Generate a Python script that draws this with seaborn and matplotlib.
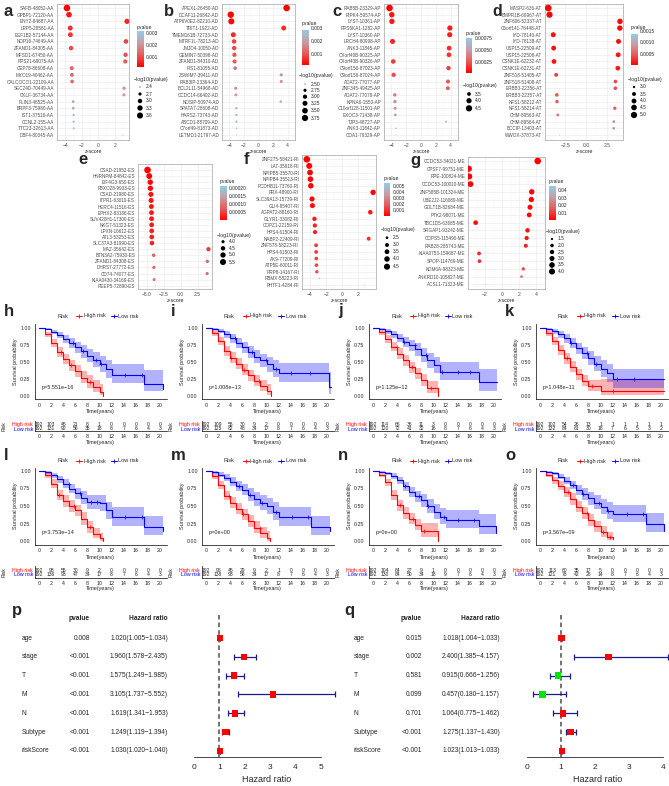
import math
import numpy as np
import pandas as pd
import matplotlib
matplotlib.use("Agg")
import matplotlib.pyplot as plt
import seaborn as sns
from matplotlib.colors import LinearSegmentedColormap, Normalize
from matplotlib.colorbar import ColorbarBase

# ================= DATA =================
# ---- dot plots (gene event, z-score) ----
A_GENES = ["SAFB-48052-AA", "GPBP1-72120-AA", "ENY2-84887-AA", "LRP5-28581-AA", "EEF1B2-57144-AA",
           "NOP16-74649-AA", "ZFAND1-84305-AA", "MFSD1-67450-AA", "RPS21-69075-AA", "CEP78-86608-AA",
           "MYO19-40462-AA", "CALCOCO1-22109-AA", "SEC24D-70449-AA", "CKLF-36734-AA", "PLIN3-48525-AA",
           "BRPF3-75980-AA", "IST1-37516-AA", "CCNL2-155-AA", "TTC23-32613-AA", "DBF4-80345-AA"]
A_Z = [-3.80, -3.55, 3.45, -3.40, -3.38, 3.33, -3.30, 3.28, 3.25, -3.22,
       -3.20, -3.18, 3.10, 3.08, -3.05, -3.04, -3.00, -2.99, -2.98, 2.95]

B_GENES = ["APEX1-26450-AD", "DCAF11-26842-AD", "ATP6V0E2-82210-AD", "TRIT1-1922-AD", "TMEM161B-72733-AD",
           "MTRF1L-78213-AD", "JMJD4-10050-AD", "GEMIN7-50398-AD", "ZFAND1-84310-AD", "FIS1-81055-AD",
           "ZSWIM7-39411-AD", "RAB3IP-23364-AD", "BCL2L11-54968-AD", "CCDC14-66402-AD", "NOSIP-50974-AD",
           "SPATA7-28608-AD", "HARS2-73743-AD", "ABCD1-88709-AD", "C7orf49-81873-AD", "LETMD1-21797-AD"]
B_Z = [3.85, -3.80, -3.72, 3.45, -3.45, -3.35, -3.33, -3.30, -3.28, -3.20,
       3.12, 3.12, -3.12, -3.10, 3.05, -3.04, -3.03, -3.02, -2.99, -2.98]

C_GENES = ["RAB5B-23329-AP", "RIPK4-59574-AP", "LYST-10361-AP", "RPS6KA1-1282-AP", "LYST-10360-AP",
           "LRCH4-80998-AP", "ANK3-11845-AP", "CXorf40B-90325-AP", "CXorf40B-90326-AP", "C9orf156-87023-AP",
           "C9orf156-87024-AP", "ADAT2-77077-AP", "ZNF345-49425-AP", "ADAT2-77078-AP", "KPNA6-1553-AP",
           "C10orf128-11501-AP", "EXOC3-71438-AP", "TJP3-48727-AP", "ANK3-11842-AP", "COA1-79329-AP"]
C_Z = [-4.25, -3.95, -3.93, 3.90, 3.88, -3.85, 3.80, 3.78, -3.75, 3.72,
       -3.70, 3.65, 3.63, -3.55, -3.52, -3.50, -3.48, 3.40, -3.38, -3.37]

D_GENES = ["MASP2-636-AT", "BMPR1B-69967-AT", "ZNF606-52337-AT", "C6orf141-76448-AT", "IYD-78140-AT",
           "IYD-78138-AT", "USP15-22509-AT", "USP15-22508-AT", "CSNK1E-62232-AT", "CSNK1E-62231-AT",
           "ZNF518-51405-AT", "ZNF518-51408-AT", "ERBB3-22356-AT", "ERBB3-22357-AT", "NFS1-58212-AT",
           "NFS1-58214-AT", "CHM-89563-AT", "CHM-89564-AT", "BCCIP-13403-AT", "WWOX-37873-AT"]
D_Z = [-4.55, -4.40, 4.10, 4.08, -3.95, 3.92, -3.90, 3.88, -3.86, 3.84,
       -3.60, 3.55, 3.54, -3.52, -3.50, 3.48, -3.40, 3.35, 3.34, -3.20]

E_GENES = ["CSAD-21952-ES", "HNRNPM-84842-ES", "EIF4G3-650-ES", "FBXO28-9933-ES", "CSAD-21980-ES",
           "ITPR1-63010-ES", "HERC4-11516-ES", "EPHX2-83186-ES", "SUV420H1-17300-ES", "NKG7-51323-ES",
           "LPXN-16612-ES", "ATL3-53253-ES", "SLC37A3-81990-ES", "MAZ-35642-ES", "BTN3A2-75930-ES",
           "ZFAND1-84308-ES", "DHRS7-27772-ES", "CD74-74077-ES", "KIAA0430-34169-ES", "REEP5-72890-ES"]
E_Z = [-4.85, -4.60, -4.45, -4.43, -4.35, -4.33, -4.28, -4.27, -4.26, -4.25,
       -4.24, -4.23, -4.20, 4.10, -3.95, 3.93, -3.92, 3.90, -3.88, -3.70]

F_GENES = ["ZNF275-58421-RI", "LAT-35918-RI", "NPIPB5-35570-RI", "NPIPB4-35513-RI", "PCDHB11-73760-RI",
           "PRX-48900-RI", "SLC39A13-15739-RI", "GLI4-85407-RI", "AGPAT2-88160-RI", "GLYR1-33082-RI",
           "COPZ1-22159-RI", "HPS4-61504-RI", "NABP2-22409-RI", "ZNF578-58223-RI", "HPS4-61503-RI",
           "AK9-77209-RI", "ATP5E-60011-RI", "RRP8-14167-RI", "RBMX-58223-RI", "PHTF1-4284-RI"]
F_Z = [-4.40, -4.10, -4.00, -3.95, -3.90, 3.85, -3.75, -3.70, 3.50, -3.45,
       -3.40, -3.38, 3.30, -3.25, -3.24, -3.22, -3.20, -3.15, -2.80, 2.78]

G_GENES = ["CCDC53-34021-ME", "CPSF7-99751-ME", "RPE-100824-ME", "CCDC53-100010-ME", "ZNF585B-101324-ME",
           "UBE2J2-116089-ME", "GOLT1B-82684-ME", "PTK2-98071-ME", "TBC1D5-63685-ME", "SRGAP1-93242-ME",
           "COPS5-115490-ME", "RAB28-285743-ME", "KIAA0753-159687-ME", "SPOP-114769-ME", "KDM6A-98323-ME",
           "ANKRD10-105827-ME", "ACSL1-71323-ME"]
G_Z = [4.20, -3.90, -3.85, -3.70, 3.50, 3.45, 3.30, 3.20, -3.10, 3.00,
       2.90, 2.80, -2.70, -2.65, 2.50, 2.30, -2.00]

# ---- Kaplan-Meier curves (time in years, survival, CI low, CI high, censor times) ----
H_HI_T = [0, 1, 2, 3, 4, 5, 6, 7, 8, 9, 10, 10.6]
H_HI_S = [1.00, 0.90, 0.77, 0.64, 0.54, 0.45, 0.36, 0.27, 0.20, 0.13, 0.06, 0.00]
H_HI_L = [1.00, 0.86, 0.71, 0.57, 0.46, 0.37, 0.28, 0.19, 0.12, 0.06, 0.01, 0.00]
H_HI_U = [1.00, 0.94, 0.83, 0.71, 0.62, 0.53, 0.45, 0.36, 0.30, 0.23, 0.17, 0.17]
H_LO_T = [0, 1, 2, 3, 4, 5, 6, 7, 8, 9, 10, 11, 12, 14, 17.3, 20.5]
H_LO_S = [1.00, 0.98, 0.94, 0.89, 0.83, 0.77, 0.71, 0.65, 0.59, 0.53, 0.46, 0.39, 0.31, 0.31, 0.18, 0.10]
H_LO_L = [1.00, 0.96, 0.90, 0.84, 0.77, 0.70, 0.63, 0.56, 0.49, 0.43, 0.35, 0.27, 0.19, 0.19, 0.08, 0.02]
H_LO_U = [1.00, 1.00, 0.97, 0.94, 0.89, 0.84, 0.79, 0.74, 0.69, 0.64, 0.58, 0.52, 0.47, 0.47, 0.38, 0.30]
H_HI_C = [3.6, 5.3, 8.5]
H_LO_C = [5.6, 7.2, 9.4, 10.3, 14.2, 17.0]

I_HI_T = [0, 1, 2, 3, 4, 5, 6, 7, 8, 9, 10, 10.7]
I_HI_S = [1.00, 0.92, 0.80, 0.66, 0.56, 0.47, 0.38, 0.30, 0.22, 0.15, 0.08, 0.00]
I_HI_L = [1.00, 0.88, 0.74, 0.59, 0.48, 0.39, 0.30, 0.22, 0.14, 0.08, 0.02, 0.00]
I_HI_U = [1.00, 0.96, 0.86, 0.73, 0.64, 0.55, 0.46, 0.38, 0.31, 0.24, 0.18, 0.18]
I_LO_T = [0, 1, 2, 3, 4, 5, 6, 7, 8, 9, 10, 11, 12, 20.3, 20.6]
I_LO_S = [1.00, 0.98, 0.95, 0.90, 0.84, 0.77, 0.71, 0.64, 0.57, 0.52, 0.46, 0.40, 0.33, 0.13, 0.13]
I_LO_L = [1.00, 0.96, 0.92, 0.85, 0.78, 0.70, 0.63, 0.55, 0.48, 0.42, 0.35, 0.28, 0.21, 0.03, 0.03]
I_LO_U = [1.00, 1.00, 0.98, 0.95, 0.90, 0.84, 0.79, 0.73, 0.67, 0.62, 0.57, 0.52, 0.48, 0.35, 0.35]
I_HI_C = [4.1, 6.2, 8.8]
I_LO_C = [4.8, 7.6, 9.9, 11.6, 14.1, 17.2]

J_HI_T = [0, 1, 2, 3, 4, 5, 6, 7, 8, 9, 10.5, 10.8]
J_HI_S = [1.00, 0.93, 0.83, 0.72, 0.62, 0.52, 0.42, 0.33, 0.23, 0.12, 0.12, 0.00]
J_HI_L = [1.00, 0.89, 0.77, 0.65, 0.54, 0.44, 0.34, 0.25, 0.15, 0.05, 0.05, 0.00]
J_HI_U = [1.00, 0.96, 0.89, 0.79, 0.70, 0.60, 0.50, 0.41, 0.32, 0.22, 0.22, 0.22]
J_LO_T = [0, 1, 2, 3, 4, 5, 6, 7, 8, 9, 10, 11, 17.6, 20.5]
J_LO_S = [1.00, 0.98, 0.95, 0.90, 0.85, 0.79, 0.74, 0.68, 0.60, 0.52, 0.45, 0.35, 0.20, 0.20]
J_LO_L = [1.00, 0.96, 0.91, 0.85, 0.79, 0.72, 0.66, 0.59, 0.50, 0.41, 0.33, 0.23, 0.08, 0.08]
J_LO_U = [1.00, 1.00, 0.98, 0.95, 0.91, 0.86, 0.82, 0.77, 0.70, 0.63, 0.57, 0.50, 0.40, 0.40]
J_HI_C = [3.9, 6.4, 9.6]
J_LO_C = [5.1, 6.9, 8.8, 11.4, 14.0, 16.1]

K_HI_T = [0, 1, 2, 3, 4, 5, 6, 7, 8, 10, 20.5]
K_HI_S = [1.00, 0.92, 0.80, 0.67, 0.55, 0.43, 0.32, 0.22, 0.15, 0.07, 0.07]
K_HI_L = [1.00, 0.88, 0.74, 0.60, 0.47, 0.35, 0.24, 0.14, 0.08, 0.01, 0.01]
K_HI_U = [1.00, 0.96, 0.86, 0.74, 0.63, 0.51, 0.40, 0.30, 0.24, 0.25, 0.25]
K_LO_T = [0, 1, 2, 3, 4, 5, 6, 7, 8, 9, 10, 11, 12, 20.5]
K_LO_S = [1.00, 0.98, 0.95, 0.90, 0.84, 0.77, 0.70, 0.63, 0.55, 0.47, 0.40, 0.33, 0.25, 0.25]
K_LO_L = [1.00, 0.96, 0.91, 0.85, 0.78, 0.70, 0.62, 0.54, 0.45, 0.36, 0.28, 0.20, 0.12, 0.12]
K_LO_U = [1.00, 1.00, 0.98, 0.95, 0.90, 0.84, 0.78, 0.72, 0.65, 0.58, 0.52, 0.46, 0.40, 0.40]
K_HI_C = [4.5, 8.6, 12.0]
K_LO_C = [5.2, 7.8, 9.3, 12.8, 15.5]

L_HI_T = [0, 1, 2, 3, 4, 5, 6, 7, 8, 9, 10, 10.6]
L_HI_S = [1.00, 0.94, 0.82, 0.66, 0.57, 0.50, 0.44, 0.32, 0.20, 0.10, 0.04, 0.00]
L_HI_L = [1.00, 0.90, 0.76, 0.59, 0.49, 0.42, 0.35, 0.23, 0.12, 0.04, 0.00, 0.00]
L_HI_U = [1.00, 0.97, 0.88, 0.73, 0.65, 0.58, 0.52, 0.41, 0.29, 0.18, 0.12, 0.12]
L_LO_T = [0, 1, 2, 3, 4, 5, 6, 7, 8, 10, 11, 12, 17.3, 20.5]
L_LO_S = [1.00, 0.98, 0.94, 0.88, 0.82, 0.75, 0.68, 0.62, 0.56, 0.54, 0.44, 0.35, 0.20, 0.14]
L_LO_L = [1.00, 0.96, 0.90, 0.83, 0.76, 0.68, 0.60, 0.53, 0.46, 0.43, 0.32, 0.22, 0.08, 0.04]
L_LO_U = [1.00, 1.00, 0.97, 0.93, 0.88, 0.82, 0.76, 0.71, 0.66, 0.65, 0.56, 0.49, 0.36, 0.32]
L_HI_C = [3.3, 5.8, 8.4]
L_LO_C = [4.9, 6.7, 8.6, 9.6, 14.2, 17.0]

M_HI_T = [0, 1, 2, 3, 4, 5, 6, 7, 8, 9, 10, 10.6]
M_HI_S = [1.00, 0.93, 0.80, 0.65, 0.55, 0.46, 0.38, 0.28, 0.19, 0.11, 0.05, 0.00]
M_HI_L = [1.00, 0.89, 0.74, 0.58, 0.47, 0.38, 0.30, 0.20, 0.11, 0.04, 0.00, 0.00]
M_HI_U = [1.00, 0.96, 0.86, 0.72, 0.63, 0.54, 0.46, 0.37, 0.28, 0.20, 0.14, 0.14]
M_LO_T = [0, 1, 2, 3, 4, 5, 6, 7, 8, 9, 10, 11, 12, 17.3, 20.5]
M_LO_S = [1.00, 0.98, 0.95, 0.90, 0.85, 0.79, 0.73, 0.66, 0.60, 0.55, 0.50, 0.42, 0.35, 0.20, 0.14]
M_LO_L = [1.00, 0.96, 0.92, 0.85, 0.79, 0.72, 0.65, 0.57, 0.50, 0.44, 0.38, 0.30, 0.22, 0.08, 0.04]
M_LO_U = [1.00, 1.00, 0.98, 0.95, 0.91, 0.86, 0.81, 0.75, 0.70, 0.66, 0.62, 0.55, 0.48, 0.36, 0.32]
M_HI_C = [3.8, 6.1, 8.9]
M_LO_C = [5.4, 7.3, 9.2, 11.5, 14.2, 16.9]

N_HI_T = [0, 1, 2, 3, 4, 5, 6, 7, 8, 10, 10.7]
N_HI_S = [1.00, 0.95, 0.84, 0.66, 0.51, 0.40, 0.32, 0.23, 0.14, 0.14, 0.00]
N_HI_L = [1.00, 0.92, 0.78, 0.59, 0.43, 0.32, 0.24, 0.15, 0.06, 0.06, 0.00]
N_HI_U = [1.00, 0.98, 0.89, 0.73, 0.59, 0.48, 0.40, 0.31, 0.25, 0.25, 0.25]
N_LO_T = [0, 1, 2, 3, 4, 5, 6, 7, 8, 9, 10, 11, 12, 17.5, 20.3]
N_LO_S = [1.00, 0.99, 0.97, 0.93, 0.87, 0.78, 0.70, 0.64, 0.58, 0.50, 0.42, 0.35, 0.30, 0.22, 0.11]
N_LO_L = [1.00, 0.97, 0.94, 0.89, 0.82, 0.72, 0.63, 0.56, 0.49, 0.40, 0.31, 0.24, 0.18, 0.10, 0.02]
N_LO_U = [1.00, 1.00, 0.99, 0.97, 0.92, 0.84, 0.77, 0.72, 0.67, 0.60, 0.53, 0.47, 0.44, 0.38, 0.28]
N_HI_C = [4.4, 6.6, 8.5]
N_LO_C = [5.3, 7.6, 9.1, 11.7, 14.1, 16.7]

O_HI_T = [0, 1, 2, 3, 4, 5, 6, 7, 8, 9, 10, 11, 12]
O_HI_S = [1.00, 0.95, 0.87, 0.79, 0.70, 0.60, 0.49, 0.40, 0.30, 0.21, 0.13, 0.06, 0.03]
O_HI_L = [1.00, 0.92, 0.82, 0.73, 0.63, 0.52, 0.41, 0.32, 0.22, 0.13, 0.06, 0.01, 0.00]
O_HI_U = [1.00, 0.98, 0.92, 0.85, 0.77, 0.68, 0.57, 0.48, 0.38, 0.29, 0.21, 0.13, 0.10]
O_LO_T = [0, 1, 2, 3, 4, 5, 6, 7, 8, 9, 10, 11, 12, 17.5, 20.5]
O_LO_S = [1.00, 0.99, 0.97, 0.92, 0.86, 0.80, 0.73, 0.67, 0.61, 0.55, 0.49, 0.43, 0.39, 0.25, 0.15]
O_LO_L = [1.00, 0.97, 0.94, 0.88, 0.81, 0.74, 0.66, 0.59, 0.52, 0.46, 0.39, 0.32, 0.27, 0.13, 0.04]
O_LO_U = [1.00, 1.00, 0.99, 0.96, 0.91, 0.86, 0.80, 0.75, 0.70, 0.65, 0.60, 0.55, 0.52, 0.40, 0.33]
O_HI_C = [4.6, 7.7, 10.4, 11.5]
O_LO_C = [5.5, 7.1, 9.8, 11.3, 14.3, 17.1]

KM_PVALUES = ["p=5.551e\u221216", "p=1.008e\u221213", "p=1.125e\u221212", "p=1.048e\u221211",
              "p=3.753e\u221214", "p=0e+00", "p=0e+00", "p=3.567e\u221209"]

RISK_TIMES = [0, 2, 4, 6, 8, 10, 12, 14, 16, 18, 20]
H_RH = [192, 103, 46, 21, 8, 1, 0, 0, 0, 0, 0]
H_RL = [192, 131, 92, 56, 35, 18, 8, 7, 6, 4, 3]
I_RH = [192, 109, 55, 30, 9, 2, 0, 0, 0, 0, 0]
I_RL = [192, 125, 82, 48, 34, 17, 8, 7, 6, 4, 3]
J_RH = [192, 114, 66, 36, 11, 3, 0, 0, 0, 0, 0]
J_RL = [192, 120, 72, 41, 32, 16, 8, 7, 6, 4, 3]
K_RH = [192, 102, 54, 26, 13, 1, 1, 1, 1, 1, 1]
K_RL = [192, 132, 84, 61, 30, 18, 7, 6, 5, 3, 2]
L_RH = [192, 98, 55, 30, 9, 2, 0, 0, 0, 0, 0]
L_RL = [192, 136, 93, 47, 34, 17, 8, 7, 6, 4, 3]
M_RH = [192, 96, 45, 29, 9, 2, 1, 0, 0, 0, 0]
M_RL = [192, 138, 93, 58, 34, 17, 8, 7, 6, 4, 3]
N_RH = [192, 104, 64, 27, 9, 1, 0, 0, 0, 0, 0]
N_RL = [192, 130, 84, 50, 34, 18, 9, 7, 6, 4, 3]
O_RH = [192, 113, 60, 35, 17, 5, 0, 0, 0, 0, 0]
O_RL = [192, 121, 78, 42, 28, 14, 8, 7, 6, 4, 3]

# ---- forest plots ----
FOREST_VARS = ["age", "stage", "T", "M", "N", "Subtype", "riskScore"]
P_PVAL = ["0.008", "<0.001", "<0.001", "<0.001", "<0.001", "<0.001", "<0.001"]
P_HR = [1.020, 1.960, 1.575, 3.105, 1.619, 1.249, 1.030]
P_LO = [1.005, 1.578, 1.249, 1.737, 1.341, 1.119, 1.020]
P_HI = [1.034, 2.435, 1.985, 5.552, 1.953, 1.394, 1.040]
Q_PVAL = ["0.015", "0.002", "0.581", "0.099", "0.701", "<0.001", "<0.001"]
Q_HR = [1.018, 2.400, 0.915, 0.457, 1.064, 1.275, 1.023]
Q_LO = [1.004, 1.385, 0.666, 0.180, 0.775, 1.137, 1.013]
Q_HI = [1.033, 4.157, 1.256, 1.157, 1.462, 1.430, 1.033]

# ================= FIGURE =================
sns.set_theme(style="white")
plt.rcParams['font.family'] = ['Liberation Sans', 'DejaVu Sans']
plt.rcParams['axes.unicode_minus'] = True

W, H = 669, 786
fig = plt.figure(figsize=(W / 100, H / 100), dpi=100)
fig.patch.set_facecolor("white")
ov = fig.add_axes([0, 0, 1, 1], zorder=30)
ov.set_xlim(0, W)
ov.set_ylim(H, 0)
ov.axis("off")
ov.patch.set_alpha(0)


def rect(x0, y0, x1, y1):
    return [x0 / W, 1 - y1 / H, (x1 - x0) / W, (y1 - y0) / H]


def letter(x, y, s, size=12):
    ov.text(x, y, s, fontsize=size, fontweight="bold", ha="left", va="center")


CMAP = LinearSegmentedColormap.from_list("pv", ["#FF0000", "#E65A5A", "#C69EA5", "#8ECDEB"])


def pz(z):
    return math.erfc(abs(z) / math.sqrt(2))


def dsize(v, lmin, lmax, dmin=1.0, dmax=6.6):
    t = (v - lmin) / (lmax - lmin) if lmax > lmin else 1.0
    t = min(max(t, 0.0), 1.0)
    d = dmin + (dmax - dmin) * math.sqrt(t)
    return (0.72 * d) ** 2


def dot_panel(genes, z, bx, zero_px, k, row0, rowl, ticks, ticklabels, lg):
    p = [pz(v) for v in z]
    lp = [-math.log10(v) for v in p]
    lmin, lmax = min(lp), max(lp)
    pmin, pmax = min(p), max(p)
    s = [dsize(v, lmin, lmax) for v in lp]
    n = len(genes)
    df = pd.DataFrame(dict(gene=genes, z=z, p=p, s=s, row=np.arange(n)))
    x0, y0, x1, y1 = bx
    ax = fig.add_axes(rect(*bx))
    ax.set_facecolor("white")
    sns.scatterplot(data=df, x="z", y="row", hue="p", hue_norm=(pmin, pmax), palette=CMAP,
                    size="s", sizes=(min(s), max(s)), size_norm=(min(s), max(s)),
                    legend=False, edgecolor="none", linewidth=0, ax=ax, zorder=3)
    ax.set_xlim((x0 - zero_px) / k, (x1 - zero_px) / k)
    sp = (rowl - row0) / (n - 1)
    ax.set_ylim((n - 1) + (y1 - rowl) / sp, -(row0 - y0) / sp)
    ax.set_yticks(range(n))
    ax.set_yticklabels(genes, fontsize=3.3, color="#4D4D4D")
    ax.set_xticks(ticks)
    ax.set_xticklabels(ticklabels, fontsize=3.6, color="#4D4D4D")
    mids = [(ticks[i] + ticks[i + 1]) / 2 for i in range(len(ticks) - 1)]
    mids = [ticks[0] - (ticks[1] - ticks[0]) / 2] + mids + [ticks[-1] + (ticks[1] - ticks[0]) / 2]
    ax.set_xticks(mids, minor=True)
    ax.tick_params(axis="both", which="major", length=1.3, width=0.4, pad=0.8, color="#333333")
    ax.tick_params(axis="x", which="minor", length=0)
    ax.grid(True, which="major", color="#EBEBEB", lw=0.45)
    ax.grid(True, which="minor", axis="x", color="#F2F2F2", lw=0.3)
    ax.set_axisbelow(True)
    for sp_ in ax.spines.values():
        sp_.set_color("#B3B3B3")
        sp_.set_linewidth(0.6)
    ax.set_xlabel("z-score", fontsize=3.8, labelpad=0.8)
    ax.set_ylabel("")
    # legend: colorbar
    lx = lg["x"]
    ov.text(lx, lg["pt"], "pvalue", fontsize=3.7, ha="left", va="center")
    cax = fig.add_axes(rect(lx, lg["c0"], lx + 6.5, lg["c1"]))
    cb = ColorbarBase(cax, cmap=CMAP, norm=Normalize(pmin, pmax), orientation="vertical")
    cb.outline.set_visible(False)
    cb.set_ticks(lg["pv"])
    cb.set_ticklabels(lg["pvl"])
    cax.tick_params(labelsize=3.5, length=1.4, width=0.4, color="white", direction="in", pad=1.5)
    # legend: size
    ov.text(lx - 3, lg["st"], "\u2212log10(pvalue)", fontsize=3.7, ha="left", va="center")
    for v, lab, yy in zip(lg["sv"], lg["svl"], lg["sy"]):
        ov.scatter([lx + 3], [yy], s=dsize(v, lmin, lmax), color="black", edgecolor="none")
        ov.text(lx + 8.5, yy, lab, fontsize=3.5, ha="left", va="center")
    return ax


# ---- row 1 dot plots ----
letter(4, 12, "a")
dot_panel(A_GENES, A_Z, (57, 4, 129, 140), 95.0, 9.2, 8, 135, [-4, -2, 0, 2],
          ["\u22124", "\u22122", "0", "2"],
          dict(x=137, pt=27, c0=31, c1=67, pv=[0.003, 0.002, 0.001], pvl=["0.003", "0.002", "0.001"],
               st=80, sv=[2.4, 2.7, 3.0, 3.3, 3.6], svl=["2.4", "2.7", "3.0", "3.3", "3.6"],
               sy=[87, 94, 101, 108, 115.5]))
letter(164, 12, "b")
dot_panel(B_GENES, B_Z, (222, 4, 295, 140), 258.1, 8.72, 8, 135, [-4, -2, 0, 2, 4],
          ["\u22124", "\u22122", "0", "2", "4"],
          dict(x=302, pt=24, c0=28, c1=65, pv=[0.003, 0.002, 0.001], pvl=["0.003", "0.002", "0.001"],
               st=76, sv=[2.50, 2.75, 3.00, 3.25, 3.50, 3.75],
               svl=["2.50", "2.75", "3.00", "3.25", "3.50", "3.75"],
               sy=[84, 90.3, 96.7, 103.3, 110.7, 118]))
letter(332, 12, "c")
dot_panel(C_GENES, C_Z, (384, 4, 458, 140), 421.5, 8.42, 8, 135, [-4, -2, 0, 2, 4],
          ["\u22124", "\u22122", "0", "2", "4"],
          dict(x=466, pt=33, c0=38, c1=73, pv=[0.00075, 0.00050, 0.00025],
               pvl=["0.00075", "0.00050", "0.00025"],
               st=86, sv=[3.5, 4.0, 4.5], svl=["3.5", "4.0", "4.5"], sy=[94, 100.7, 108.3]))
letter(492, 11, "d", 11.5)
dot_panel(D_GENES, D_Z, (545, 4, 623, 140), 586.0, 8.29, 8, 135, [-2.5, 0.0, 2.5],
          ["\u22122.5", "0.0", "2.5"],
          dict(x=631, pt=27, c0=31, c1=65, pv=[0.0015, 0.0010, 0.0005],
               pvl=["0.0015", "0.0010", "0.0005"],
               st=80, sv=[3.0, 3.5, 4.0, 4.5, 5.0], svl=["3.0", "3.5", "4.0", "4.5", "5.0"],
               sy=[87, 94, 101, 107.5, 115]))

# ---- row 2 dot plots ----
letter(78, 160, "e")
dot_panel(E_GENES, E_Z, (138, 164, 212, 289), 176.9, 7.6, 170, 285.7, [-5.0, -2.5, 0.0, 2.5],
          ["\u22125.0", "\u22122.5", "0.0", "2.5"],
          dict(x=220, pt=182, c0=186, c1=220, pv=[0.00020, 0.00015, 0.00010, 0.00005],
               pvl=["0.00020", "0.00015", "0.00010", "0.00005"],
               st=235, sv=[4.0, 4.5, 5.0, 5.5], svl=["4.0", "4.5", "5.0", "5.5"],
               sy=[241.7, 248.3, 255, 262]))
letter(244, 160, "f")
dot_panel(F_GENES, F_Z, (302, 155.5, 376, 289), 340.3, 8.48, 159.3, 285, [-4, -2, 0, 2],
          ["\u22124", "\u22122", "0", "2"],
          dict(x=384, pt=178.3, c0=183, c1=216, pv=[0.005, 0.004, 0.003, 0.002, 0.001],
               pvl=["0.005", "0.004", "0.003", "0.002", "0.001"],
               st=229.3, sv=[2.5, 3.0, 3.5, 4.0, 4.5], svl=["2.5", "3.0", "3.5", "4.0", "4.5"],
               sy=[237.7, 245, 251.7, 259, 266.7]))
letter(410, 160, "g")
dot_panel(G_GENES, G_Z, (468, 157, 545, 289), 502.0, 8.5, 161, 284.3, [-2, 0, 2, 4],
          ["\u22122", "0", "2", "4"],
          dict(x=549, pt=181.7, c0=186, c1=220, pv=[0.04, 0.03, 0.02, 0.01],
               pvl=["0.04", "0.03", "0.02", "0.01"],
               st=232, sv=[1.5, 2.0, 2.5, 3.0, 3.5, 4.0],
               svl=["1.5", "2.0", "2.5", "3.0", "3.5", "4.0"],
               sy=[239, 245.5, 252, 258.5, 265, 271.5]))

# ---- KM panels ----
RED = "#FF0000"
BLUE = "#0000FF"
ROW3 = dict(y1=327.5, y0=396, let=311, leg=316, thi=424.3, tlo=428.5, tb=431)
ROW4 = dict(y1=471, y0=541, let=455, leg=461, thi=570, tlo=574.5, tb=577.5)
PPX = 6.05  # px per year


def step_val(T, S, t):
    v = S[0]
    for tt, ss in zip(T, S):
        if tt <= t:
            v = ss
    return v


def km_panel(col, R, let, hi, lo, ptxt, rh, rl):
    x_zero = col + 39
    bx0, bx1 = col + 34.5, col + 167
    kk = R["y0"] - R["y1"]
    top = R["y1"] - 0.05 * kk
    bot = R["y0"] + 0.05 * kk
    ax = fig.add_axes(rect(bx0, top, bx1, bot))
    ax.set_facecolor("none")
    for (T, S, L, U, C), colr in ((hi, RED), (lo, BLUE)):
        ax.fill_between(T, L, U, step="post", color=colr, alpha=0.3, lw=0)
        sns.lineplot(x=T, y=S, drawstyle="steps-post", color=colr, lw=0.8, ax=ax,
                     estimator=None, sort=False)
        cy = [step_val(T, S, c) for c in C]
        ax.scatter(C, cy, marker="+", s=5, color=colr, lw=0.5, zorder=4)
    ax.set_xlim((bx0 - x_zero) / PPX, (bx1 - x_zero) / PPX)
    ax.set_ylim(-0.05, 1.05)
    ax.set_xticks(RISK_TIMES)
    ax.set_yticks([0, 0.25, 0.5, 0.75, 1.0])
    ax.set_yticklabels(["0.00", "0.25", "0.50", "0.75", "1.00"])
    ax.tick_params(labelsize=3.8, length=1.8, width=0.45, pad=1, color="black")
    for sname in ("top", "right"):
        ax.spines[sname].set_visible(False)
    for sname in ("left", "bottom"):
        ax.spines[sname].set_color("black")
        ax.spines[sname].set_linewidth(0.5)
    ax.set_xlabel("Time(years)", fontsize=4.0, labelpad=0.8)
    ax.set_ylabel("Survival probability", fontsize=4.0, labelpad=1.5)
    ax.text(0.5, 0.12, ptxt, fontsize=4.0, ha="left", va="center")
    # letter + legend
    letter(col + 4, R["let"], let)
    ly = R["leg"]
    ov.text(col + 57, ly, "Risk", fontsize=4.0, ha="left", va="center")
    for xs, colr, lab in ((col + 79, RED, "High risk"), (col + 114, BLUE, "Low risk")):
        ov.plot([xs - 3, xs + 3], [ly, ly], color=colr, lw=0.7)
        ov.plot([xs], [ly], marker="+", color=colr, ms=2.5, mew=0.6)
        ov.text(xs + 4.5, ly, lab, fontsize=4.0, ha="left", va="center")
    # risk table
    sp = R["tlo"] - R["thi"]
    ttop = R["thi"] - 0.8 * sp
    at = fig.add_axes(rect(bx0, ttop, bx1, R["tb"]))
    at.set_facecolor("none")
    at.set_xlim((bx0 - x_zero) / PPX, (bx1 - x_zero) / PPX)
    at.set_ylim(-(R["tb"] - R["tlo"]) / sp, 1 + (R["thi"] - ttop) / sp)
    for t, a, b in zip(RISK_TIMES, rh, rl):
        at.text(t, 1, str(a), fontsize=3.6, ha="center", va="center")
        at.text(t, 0, str(b), fontsize=3.6, ha="center", va="center")
    at.set_yticks([1, 0])
    at.set_yticklabels(["High risk", "Low risk"], fontsize=3.6)
    at.get_yticklabels()[0].set_color(RED)
    at.get_yticklabels()[1].set_color(BLUE)
    at.set_xticks(RISK_TIMES)
    at.tick_params(labelsize=3.8, length=1.4, width=0.45, pad=0.8)
    at.tick_params(axis="y", length=0, pad=1)
    for sname in ("top", "right"):
        at.spines[sname].set_visible(False)
    for sname in ("left", "bottom"):
        at.spines[sname].set_color("black")
        at.spines[sname].set_linewidth(0.5)
    at.set_xlabel("Time(years)", fontsize=4.0, labelpad=0.5)
    ov.text(col + 4, (ttop + R["tb"]) / 2, "Risk", fontsize=3.6, rotation=90, ha="center", va="center")


KM = [
    (0, ROW3, "h", (H_HI_T, H_HI_S, H_HI_L, H_HI_U, H_HI_C), (H_LO_T, H_LO_S, H_LO_L, H_LO_U, H_LO_C), H_RH, H_RL),
    (167, ROW3, "i", (I_HI_T, I_HI_S, I_HI_L, I_HI_U, I_HI_C), (I_LO_T, I_LO_S, I_LO_L, I_LO_U, I_LO_C), I_RH, I_RL),
    (334, ROW3, "j", (J_HI_T, J_HI_S, J_HI_L, J_HI_U, J_HI_C), (J_LO_T, J_LO_S, J_LO_L, J_LO_U, J_LO_C), J_RH, J_RL),
    (501, ROW3, "k", (K_HI_T, K_HI_S, K_HI_L, K_HI_U, K_HI_C), (K_LO_T, K_LO_S, K_LO_L, K_LO_U, K_LO_C), K_RH, K_RL),
    (0, ROW4, "l", (L_HI_T, L_HI_S, L_HI_L, L_HI_U, L_HI_C), (L_LO_T, L_LO_S, L_LO_L, L_LO_U, L_LO_C), L_RH, L_RL),
    (167, ROW4, "m", (M_HI_T, M_HI_S, M_HI_L, M_HI_U, M_HI_C), (M_LO_T, M_LO_S, M_LO_L, M_LO_U, M_LO_C), M_RH, M_RL),
    (334, ROW4, "n", (N_HI_T, N_HI_S, N_HI_L, N_HI_U, N_HI_C), (N_LO_T, N_LO_S, N_LO_L, N_LO_U, N_LO_C), N_RH, N_RL),
    (501, ROW4, "o", (O_HI_T, O_HI_S, O_HI_L, O_HI_U, O_HI_C), (O_LO_T, O_LO_S, O_LO_L, O_LO_U, O_LO_C), O_RH, O_RL),
]
for (col, R, let, hi, lo, rh, rl), ptxt in zip(KM, KM_PVALUES):
    km_panel(col, R, let, hi, lo, ptxt, rh, rl)

# ---- forest plots ----
ROW_Y0, ROW_DY = 638.0, 18.83
F_TOP, F_AX = 615, 757


def forest(let, letx, xoff, pvals, hr, lo, hi, ax0, kpx, xmax, tmax):
    letter(letx, 611, let)
    ov.text(xoff + 90, 618, "pvalue", fontsize=4.8, fontweight="bold", ha="right", va="center")
    ov.text(xoff + 168, 618, "Hazard ratio", fontsize=4.8, fontweight="bold", ha="right", va="center")
    for i, (v, pv, h, l, u) in enumerate(zip(FOREST_VARS, pvals, hr, lo, hi)):
        yy = ROW_Y0 + i * ROW_DY
        ov.text(xoff + 22, yy, v, fontsize=4.8, ha="left", va="center")
        ov.text(xoff + 90, yy, pv, fontsize=4.8, ha="right", va="center")
        ov.text(xoff + 168, yy, "%.3f(%.3f\u2212%.3f)" % (h, l, u), fontsize=4.8, ha="right", va="center")
    ax = fig.add_axes(rect(ax0, F_TOP, ax0 + kpx * xmax, F_AX))
    ax.set_facecolor("none")
    rows = np.arange(len(hr))
    ax.set_xlim(0, xmax)
    ax.set_ylim((F_AX - ROW_Y0) / ROW_DY, (F_TOP - ROW_Y0) / ROW_DY)
    ax.axvline(1, color="#4D4D4D", lw=1.1, ls=(0, (3, 2)), zorder=1)
    h = np.array(hr)
    ax.errorbar(h, rows, xerr=[h - np.array(lo), np.array(hi) - h], fmt="none",
                ecolor="#1C1C8A", elinewidth=0.9, capsize=2.4, capthick=0.9, zorder=2, clip_on=False)
    fdf = pd.DataFrame(dict(hr=h, row=rows, grp=["up" if v > 1 else "down" for v in h]))
    sns.scatterplot(data=fdf, x="hr", y="row", hue="grp", palette={"up": "#FF0000", "down": "#00E600"},
                    marker="s", s=22, edgecolor="none", legend=False, ax=ax, zorder=3, clip_on=False)
    for sname in ("top", "right", "left"):
        ax.spines[sname].set_visible(False)
    ax.spines["bottom"].set_bounds(0, tmax)
    ax.spines["bottom"].set_color("black")
    ax.spines["bottom"].set_linewidth(0.5)
    ax.set_yticks([])
    ax.set_xticks(range(0, tmax + 1))
    ax.tick_params(axis="x", labelsize=6, length=3.5, width=0.5, pad=1.5)
    ax.set_xlabel("Hazard ratio", fontsize=6.5, labelpad=3)
    ax.set_ylabel("")


forest("p", 12, 0, P_PVAL, P_HR, P_LO, P_HI, 194, 25.4, 5.75, 5)
forest("q", 344, 332, Q_PVAL, Q_HR, Q_LO, Q_HI, 527, 34.0, 4.18, 4)

fig.savefig("out.png", dpi=100, facecolor="white")
